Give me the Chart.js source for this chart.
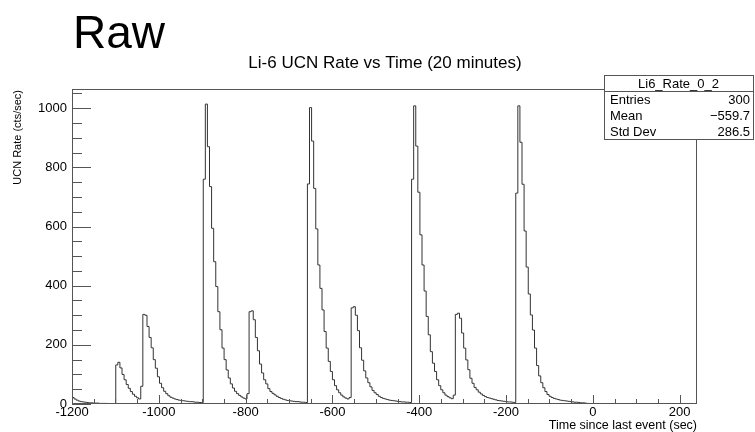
<!DOCTYPE html>
<html>
<head>
<meta charset="utf-8">
<script src="https://cdn.jsdelivr.net/npm/chart.js@4.4.1/dist/chart.umd.min.js"></script>
<style>
  html, body { margin: 0; padding: 0; background: #fff; }
  #wrap { width: 755px; height: 432px; }
</style>
</head>
<body>
<div id="wrap"><canvas id="rateChart" width="755" height="432"></canvas></div>
<script>
// Histogram binning (300 bins of 4.8 s)
const binStart = -1200;
const binWidth = 4.8;

// Tick labels on each axis
const xTickValues = [-1200, -1000, -800, -600, -400, -200, 0, 200];
const yTickValues = [0, 200, 400, 600, 800, 1000];

// Bin contents (cts/sec), one array per fill cycle
// bins 0-63: tail of previous cycle, small pulses at ~-1095 and ~-1030
const cycle0 = [28, 22, 17, 13, 10, 8, 7, 6, 5, 4, 4, 3, 3, 3, 2, 2, 2, 2, 1, 1, 1, 1,
  132, 141, 122, 100, 82, 66, 53, 42, 33, 26, 21, 17, 60,
  303, 300, 262, 225, 190, 150, 121, 92, 70, 55, 43, 35, 28, 23, 20, 17, 15, 13, 12, 11,
  10, 9, 8, 8, 7, 6, 6, 5, 5];
// bins 64-113: big pulse at ~-893, small pulse at ~-787
const cycle1 = [760, 1014, 870, 735, 594, 481, 397, 312, 251, 189, 150, 115, 88, 68, 54,
  43, 35, 29, 24, 20, 17, 35,
  312, 315, 285, 225, 180, 135, 105, 82, 68, 52, 42, 36, 31, 26, 22, 19, 16, 14, 12, 11,
  10, 9, 8, 8, 7, 6, 6, 5];
// bins 114-163: big pulse at ~-653, small pulse at ~-552
const cycle2 = [744, 1002, 889, 729, 592, 470, 391, 318, 245, 189, 144, 110, 82, 62, 48,
  38, 30, 24, 20, 17, 22,
  325, 329, 300, 248, 190, 148, 112, 88, 72, 58, 46, 38, 32, 26, 22, 19, 17, 15, 13, 12,
  11, 10, 9, 8, 7, 7, 6, 6, 5];
// bins 164-213: big pulse at ~-413, small pulse at ~-312
const cycle3 = [760, 1008, 872, 716, 572, 470, 382, 296, 234, 177, 138, 110, 82, 62, 48,
  38, 30, 25, 21, 18, 30,
  303, 307, 290, 240, 189, 149, 116, 87, 70, 56, 48, 40, 34, 29, 25, 22, 20, 18, 16, 14,
  12, 11, 10, 9, 8, 7, 7, 6, 5];
// bins 214-248: last big pulse at ~-173
const cycle4 = [713, 1008, 885, 743, 585, 463, 372, 301, 250, 189, 130, 95, 72, 55, 42,
  32, 26, 22, 19, 17, 15, 13, 12, 11, 10, 9, 8, 7, 6, 6, 5, 4, 4, 3, 2];
// bins 249-299: nothing recorded
const emptyBins = [0, 0, 0, 0, 0, 0, 0, 0, 0, 0, 0, 0, 0, 0, 0, 0, 0, 0, 0, 0, 0, 0, 0, 0, 0,
  0, 0, 0, 0, 0, 0, 0, 0, 0, 0, 0, 0, 0, 0, 0, 0, 0, 0, 0, 0, 0, 0, 0, 0, 0, 0];

// Stats box contents
const statsTitle = 'Li6_Rate_0_2';
const statLabels = ['Entries', 'Mean', 'Std Dev'];
const statValues = ['300', '\u2212559.7', '286.5'];

const FONT = '"Liberation Sans", Arial, Helvetica, sans-serif';

// Build step points at each bin low edge, plus the upper edge of the last bin
const rates = [].concat(cycle0, cycle1, cycle2, cycle3, cycle4, emptyBins);
const points = rates.map((v, i) => ({ x: binStart + i * binWidth, y: v }));
points.push({ x: binStart + rates.length * binWidth, y: rates[rates.length - 1] });

// ROOT-style frame, inward ticks, titles and stats box
const rootFrame = {
  id: 'rootFrame',
  afterDatasetsDraw(chart) {
    const { ctx, chartArea: a, scales: { x, y } } = chart;
    ctx.save();
    ctx.strokeStyle = '#555';
    ctx.lineWidth = 1;
    ctx.strokeRect(a.left + 0.5, a.top + 0.5, a.right - a.left - 1, a.bottom - a.top - 1);

    ctx.beginPath();
    for (let v = 0; v <= y.max; v += 50) {
      const py = Math.round(y.getPixelForValue(v)) + 0.5;
      const len = v % 200 === 0 ? 19 : 10;
      ctx.moveTo(a.left, py);
      ctx.lineTo(a.left + len, py);
    }
    for (let v = x.min; v <= x.max; v += 50) {
      const px = Math.round(x.getPixelForValue(v)) + 0.5;
      const len = v % 200 === 0 ? 9 : 5;
      ctx.moveTo(px, a.bottom);
      ctx.lineTo(px, a.bottom - len);
    }
    ctx.stroke();

    ctx.fillStyle = '#000';
    // big heading
    ctx.font = '46px ' + FONT;
    ctx.textAlign = 'left';
    ctx.textBaseline = 'alphabetic';
    ctx.fillText('Raw', 73, 48);
    // chart title
    ctx.font = '17px ' + FONT;
    ctx.textAlign = 'center';
    ctx.fillText('Li-6 UCN Rate vs Time (20 minutes)', 385, 68);
    // x axis title
    ctx.font = '12.5px ' + FONT;
    ctx.textAlign = 'right';
    ctx.fillText('Time since last event (sec)', a.right, 429);
    // y axis title
    ctx.save();
    ctx.translate(18, a.top + 1);
    ctx.rotate(-Math.PI / 2);
    ctx.font = '11px ' + FONT;
    ctx.textAlign = 'right';
    ctx.textBaseline = 'middle';
    ctx.fillText('UCN Rate (cts/sec)', 0, 0);
    ctx.restore();

    // stats box
    const bx = 604, by = 75, bw = 149, bh = 64;
    const row = bh / 4;
    ctx.fillStyle = '#fff';
    ctx.fillRect(bx, by, bw, bh);
    ctx.strokeStyle = '#555';
    ctx.strokeRect(bx + 0.5, by + 0.5, bw, bh);
    ctx.beginPath();
    ctx.moveTo(bx, Math.round(by + row) + 0.5);
    ctx.lineTo(bx + bw, Math.round(by + row) + 0.5);
    ctx.stroke();
    ctx.fillStyle = '#000';
    ctx.font = '13px ' + FONT;
    ctx.textBaseline = 'middle';
    ctx.textAlign = 'center';
    ctx.fillText(statsTitle, bx + bw / 2, by + row / 2 + 1);
    statLabels.forEach((lab, i) => {
      const ty = by + row * (i + 1.5) + 1;
      ctx.textAlign = 'left';
      ctx.fillText(lab, bx + 6, ty);
      ctx.textAlign = 'right';
      ctx.fillText(statValues[i], bx + bw - 3, ty);
    });
    ctx.restore();
  }
};

const ctx = document.getElementById('rateChart').getContext('2d');
new Chart(ctx, {
  type: 'line',
  data: {
    datasets: [{
      data: points,
      stepped: 'after',
      borderColor: '#333',
      borderWidth: 1,
      pointRadius: 0,
      fill: false
    }]
  },
  options: {
    responsive: false,
    animation: false,
    devicePixelRatio: 1,
    layout: { padding: { top: 89, right: 58, left: 0, bottom: 0 } },
    plugins: { legend: { display: false }, tooltip: { enabled: false } },
    scales: {
      x: {
        type: 'linear',
        min: -1200,
        max: 240,
        grid: { display: false, drawTicks: false },
        border: { display: false },
        afterBuildTicks: s => { s.ticks = xTickValues.map(v => ({ value: v })); },
        ticks: {
          autoSkip: false,
          maxRotation: 0,
          padding: 1,
          color: '#000',
          font: { family: FONT, size: 13 },
          callback: v => String(v)
        },
        afterFit: s => { s.height = 28; }
      },
      y: {
        min: 0,
        max: 1065,
        grid: { display: false, drawTicks: false },
        border: { display: false },
        afterBuildTicks: s => { s.ticks = yTickValues.map(v => ({ value: v })); },
        ticks: {
          autoSkip: false,
          padding: 5,
          color: '#000',
          font: { family: FONT, size: 13 },
          callback: v => String(v)
        },
        afterFit: s => { s.width = 72; }
      }
    }
  },
  plugins: [rootFrame]
});
</script>
</body>
</html>
